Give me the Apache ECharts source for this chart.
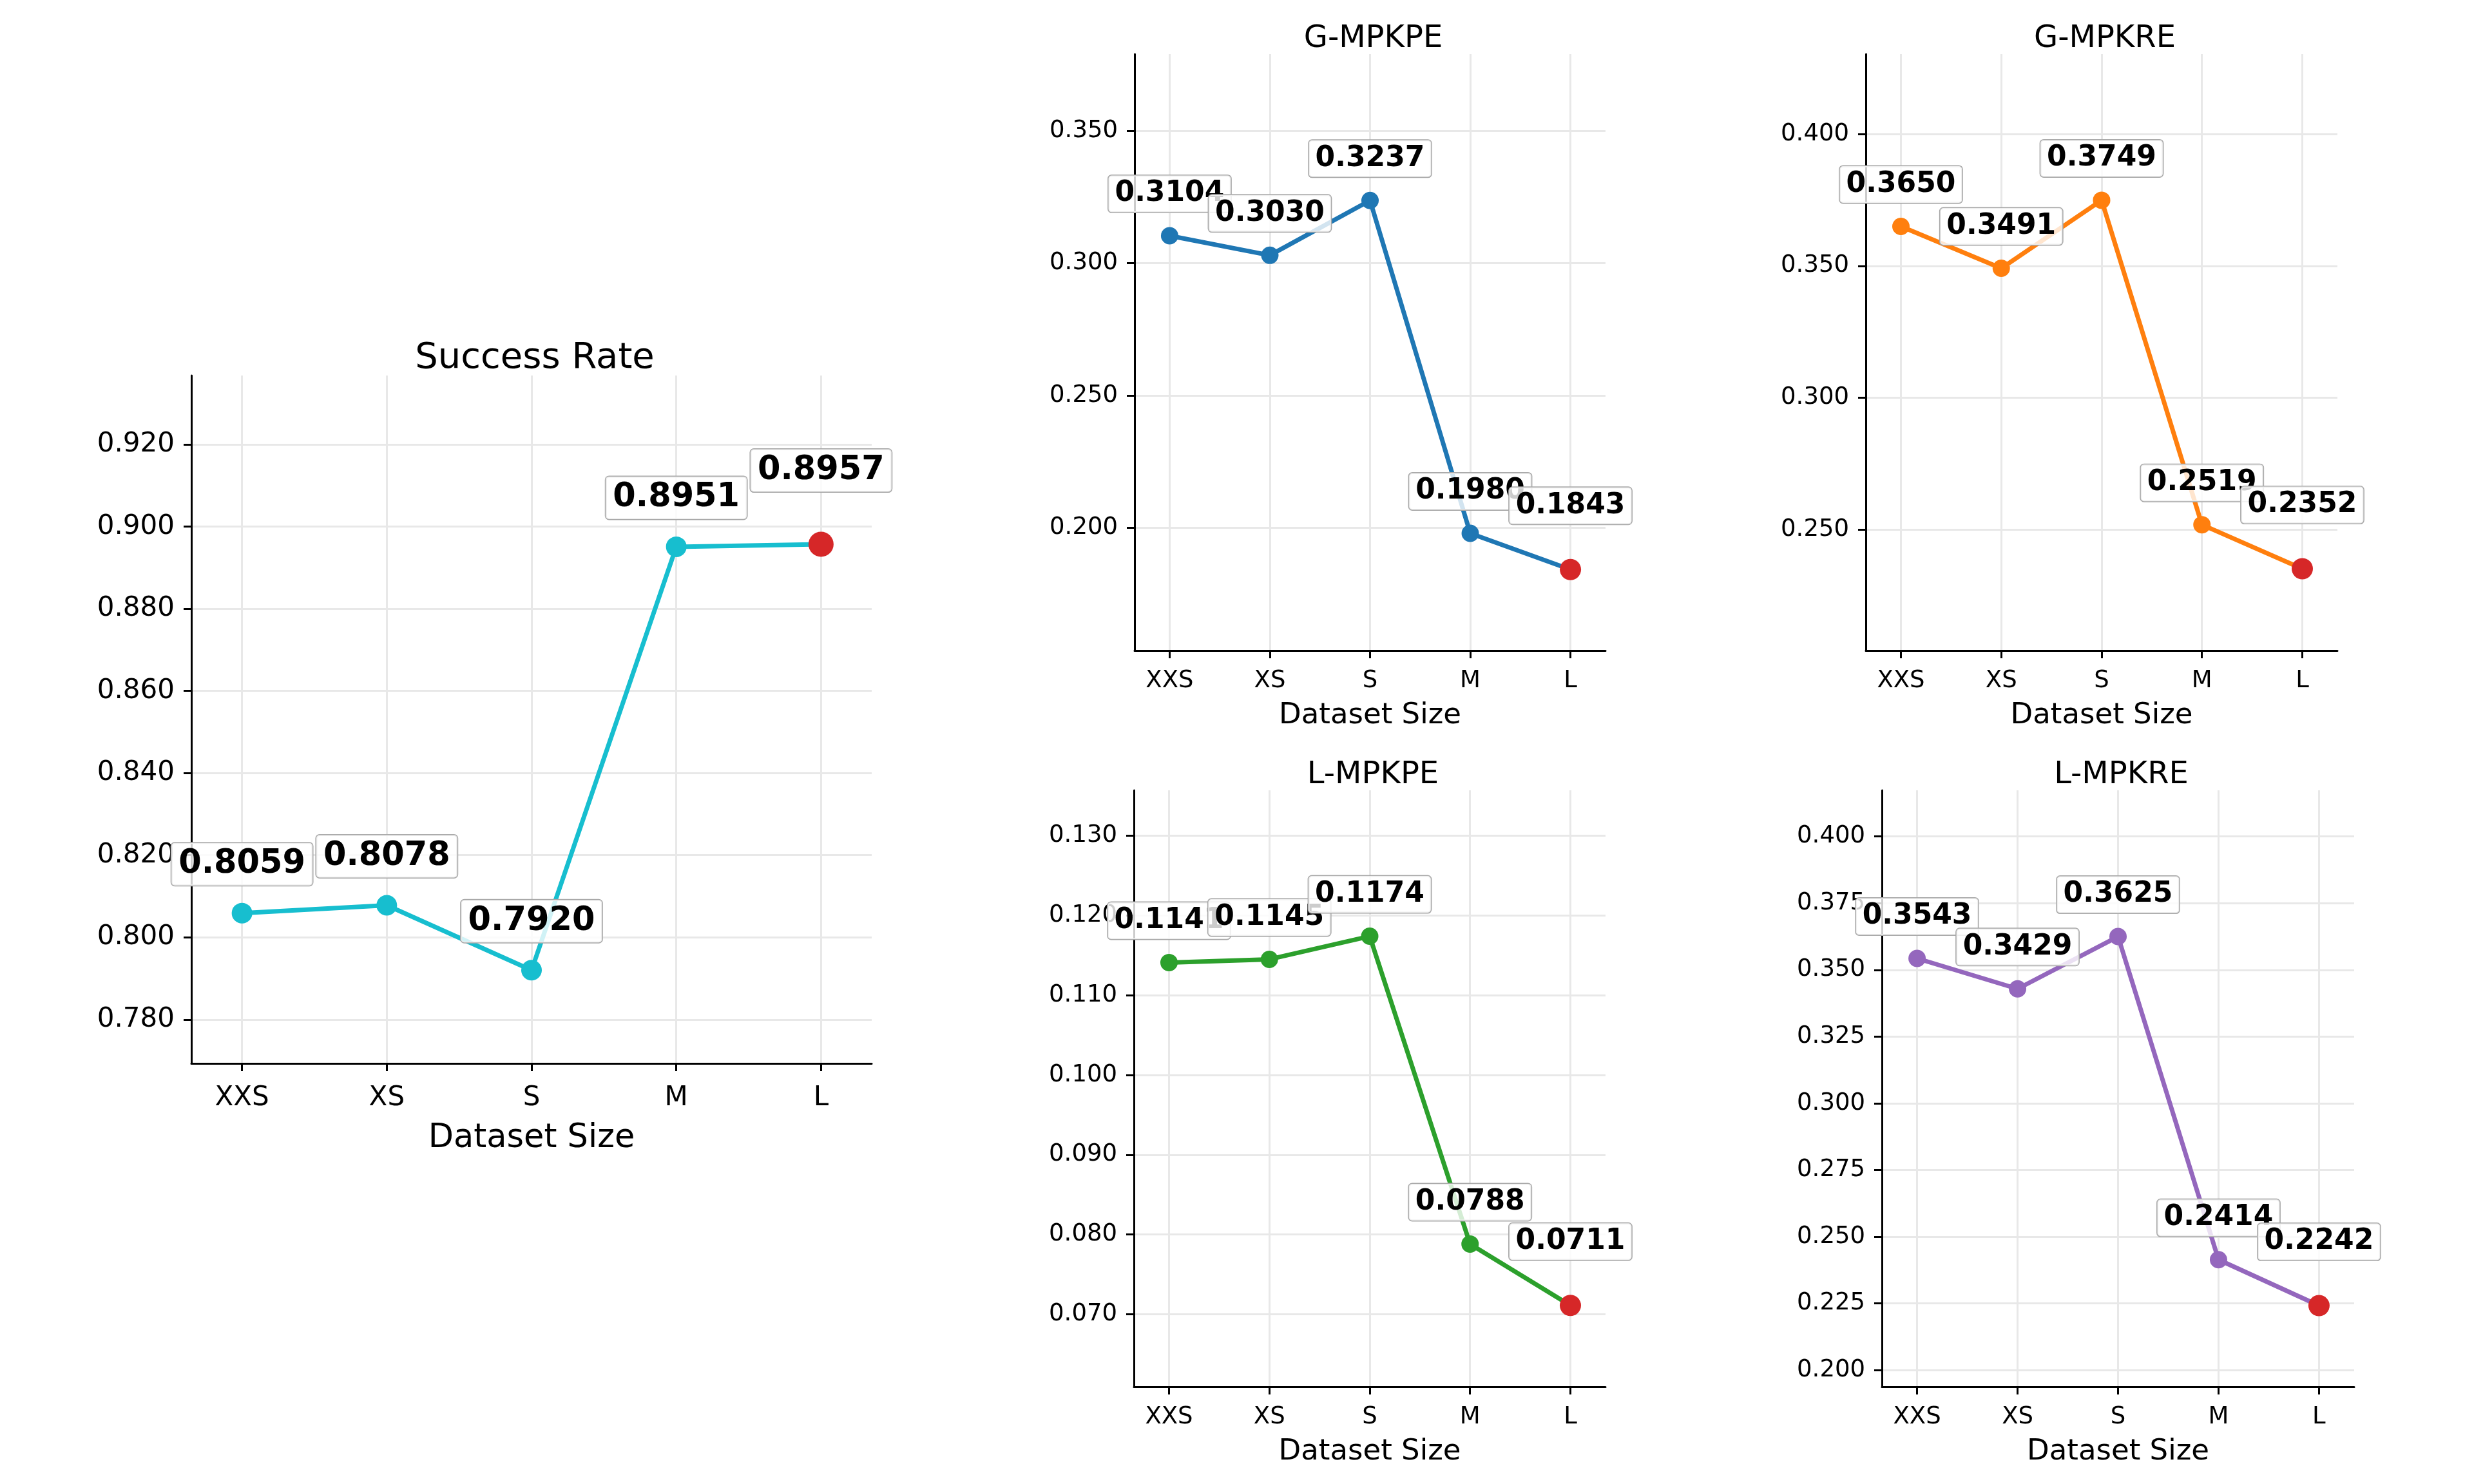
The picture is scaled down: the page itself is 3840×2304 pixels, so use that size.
<!DOCTYPE html>
<html>
<head>
<meta charset="utf-8">
<script src="https://cdn.jsdelivr.net/npm/echarts@6/dist/echarts.min.js"></script>
<style>
  html, body { margin: 0; padding: 0; background: #fff; }
  #chart { width: 3840px; height: 2304px; }
</style>
</head>
<body>
<div id="chart"></div>
<script>
// dataset sizes on the x axis
const sizes = ['XXS', 'XS', 'S', 'M', 'L'];

// metric values per dataset size
const successRate = [0.8059, 0.8078, 0.7920, 0.8951, 0.8957];
const gMpkpe = [0.3104, 0.3030, 0.3237, 0.1980, 0.1843];
const gMpkre = [0.3650, 0.3491, 0.3749, 0.2519, 0.2352];
const lMpkpe = [0.1141, 0.1145, 0.1174, 0.0788, 0.0711];
const lMpkre = [0.3543, 0.3429, 0.3625, 0.2414, 0.2242];

// y tick labels
const srTicks = [0.78, 0.80, 0.82, 0.84, 0.86, 0.88, 0.90, 0.92];
const gMpkpeTicks = [0.20, 0.25, 0.30, 0.35];
const gMpkreTicks = [0.25, 0.30, 0.35, 0.40];
const lMpkpeTicks = [0.07, 0.08, 0.09, 0.10, 0.11, 0.12, 0.13];
const lMpkreTicks = [0.200, 0.225, 0.250, 0.275, 0.300, 0.325, 0.350, 0.375, 0.400];

const FONT = 'DejaVu Sans';
const BEST = '#d62728';

// layout of each subplot (pixels)
const panels = [
  { title: 'Success Rate', values: successRate, ticks: srTicks, color: '#17becf', best: 'max',
    left: 297, top: 583, width: 1056, height: 1068, yMin: 0.7693, yMax: 0.9368, big: true },
  { title: 'G-MPKPE', values: gMpkpe, ticks: gMpkpeTicks, color: '#1f77b4', best: 'min',
    left: 1761, top: 84, width: 731, height: 926, yMin: 0.1537, yMax: 0.3790 },
  { title: 'G-MPKRE', values: gMpkre, ticks: gMpkreTicks, color: '#ff7f0e', best: 'min',
    left: 2896, top: 84, width: 732, height: 926, yMin: 0.2042, yMax: 0.4303 },
  { title: 'L-MPKPE', values: lMpkpe, ticks: lMpkpeTicks, color: '#2ca02c', best: 'min',
    left: 1760, top: 1227, width: 732, height: 926, yMin: 0.0609, yMax: 0.1357 },
  { title: 'L-MPKRE', values: lMpkre, ticks: lMpkreTicks, color: '#9467bd', best: 'min',
    left: 2921, top: 1227, width: 733, height: 926, yMin: 0.1938, yMax: 0.4173 }
];

const option = {
  animation: false,
  backgroundColor: '#fff',
  title: [],
  grid: [],
  xAxis: [],
  yAxis: [],
  series: []
};

panels.forEach((p, i) => {
  const s = p.big
    ? { tick: 42, name: 51, title: 56, label: 51, lh: 52, pad: [7, 11], sym: 32, bestSym: 39, dist: 27, bestDist: 62, nameGap: 91, xMargin: 33 }
    : { tick: 37, name: 45, title: 48, label: 44, lh: 45, pad: [6, 10], sym: 27, bestSym: 33, dist: 23, bestDist: 54, nameGap: 79, xMargin: 29 };

  const bestVal = p.best === 'max' ? Math.max(...p.values) : Math.min(...p.values);
  const bestIdx = p.values.indexOf(bestVal);

  option.title.push({
    text: p.title,
    left: p.left + p.width / 2,
    top: p.top - (p.big ? 32 : 28),
    textAlign: 'center',
    textVerticalAlign: 'middle',
    textStyle: { fontFamily: FONT, fontSize: s.title, fontWeight: 'normal', color: '#000' }
  });

  option.grid.push({ left: p.left, top: p.top, width: p.width, height: p.height, containLabel: false });

  option.xAxis.push({
    type: 'value',
    gridIndex: i,
    min: -0.35,
    max: 4.35,
    name: 'Dataset Size',
    nameLocation: 'middle',
    nameGap: s.nameGap,
    nameTextStyle: { fontFamily: FONT, fontSize: s.name, color: '#000' },
    axisLine: { show: true, onZero: false, lineStyle: { color: '#000', width: 3 } },
    axisTick: { show: true, length: 12, customValues: [0, 1, 2, 3, 4], lineStyle: { color: '#000', width: 3 } },
    axisLabel: {
      customValues: [0, 1, 2, 3, 4],
      formatter: v => sizes[Math.round(v)],
      fontFamily: FONT, fontSize: s.tick, color: '#000', margin: s.xMargin
    },
    splitLine: { show: true, lineStyle: { color: '#e8e8e8', width: 3 } }
  });

  option.yAxis.push({
    type: 'value',
    gridIndex: i,
    min: p.yMin,
    max: p.yMax,
    axisLine: { show: true, onZero: false, lineStyle: { color: '#000', width: 3 } },
    axisTick: { show: true, length: 12, customValues: p.ticks, lineStyle: { color: '#000', width: 3 } },
    axisLabel: {
      customValues: p.ticks,
      formatter: v => v.toFixed(3),
      fontFamily: FONT, fontSize: s.tick, color: '#000', margin: 26
    },
    splitLine: { show: true, lineStyle: { color: '#e8e8e8', width: 3 } }
  });

  const labelBase = {
    show: true,
    position: 'top',
    distance: s.dist,
    formatter: d => d.value[1].toFixed(4),
    fontFamily: FONT,
    fontSize: s.label,
    fontWeight: 'bold',
    color: '#000',
    lineHeight: s.lh,
    backgroundColor: 'rgba(255,255,255,0.8)',
    borderColor: '#a8a8a8',
    borderWidth: 1.5,
    borderRadius: 5,
    padding: s.pad
  };

  option.series.push({
    type: 'line',
    xAxisIndex: i,
    yAxisIndex: i,
    symbol: 'circle',
    symbolSize: s.sym,
    showAllSymbol: true,
    lineStyle: { color: p.color, width: 7 },
    itemStyle: { color: p.color },
    label: labelBase,
    emphasis: { disabled: true },
    data: p.values.map((v, k) => k === bestIdx
      ? { value: [k, v], symbolSize: s.bestSym, itemStyle: { color: BEST }, label: { distance: s.bestDist } }
      : { value: [k, v] })
  });
});

const chart = echarts.init(document.getElementById('chart'), null, { renderer: 'canvas' });
chart.setOption(option);
window.addEventListener('resize', () => chart.resize());
</script>
</body>
</html>
